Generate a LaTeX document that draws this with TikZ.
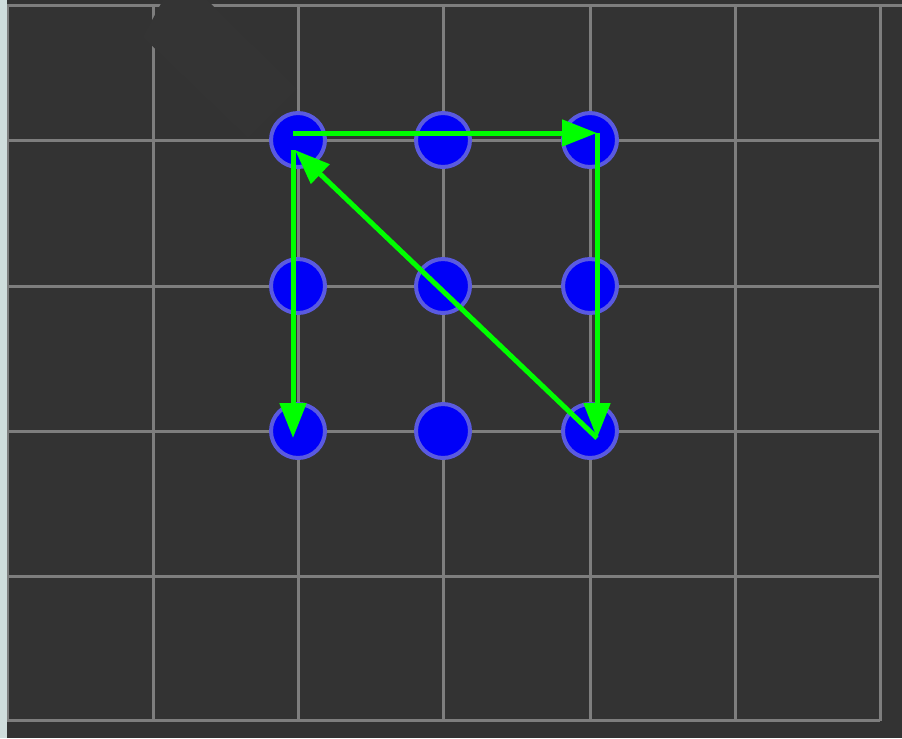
\documentclass[tikz,border=0pt]{standalone}
\usepackage{tikz}
\usetikzlibrary{arrows.meta}
\definecolor{bgdark}{HTML}{333333}
\definecolor{patchdark}{HTML}{343434}
\definecolor{sidepale}{HTML}{CFDDDC}
\definecolor{gridgray}{HTML}{7E7E7E}
\definecolor{dotblue}{HTML}{0000F8}
\definecolor{halo}{HTML}{5A5AE0}
\definecolor{movegreen}{HTML}{00FF00}

\begin{document}
\begin{tikzpicture}[x=0.02cm, y=-0.02cm,
    gridline/.style={draw=gridgray, line width=0.06cm},
    dot/.style={circle, fill=dotblue, draw=halo, line width=0.08cm,
      minimum size=1.08cm, inner sep=0pt},
    move/.style={draw=movegreen, line width=0.1cm,
      -{Triangle[length=0.7cm, width=0.52cm]}}]
  \useasboundingbox (0,0) rectangle (902,738);
  \fill[bgdark] (0,0) rectangle (902,738);
  \fill[sidepale] (0,0) rectangle (7,738);
  % grid
  \draw[gridline] (7,5) -- (902,5);
  \foreach \x in {8,153,298,443,590,735,880}
    \draw[gridline] (\x,6) -- (\x,721);
  \foreach \y in {140,286,431,576,720}
    \draw[gridline] (7,\y) -- (880,\y);
  % smudge over the top left corner
  \fill[patchdark] (143,37) -- (163,0) -- (207,0) -- (297,89) -- (248,138) -- cycle;
  % the nine dots
  \foreach \i/\x in {1/298,2/443,3/590} \foreach \j/\y in {1/140,2/286,3/431}
    \node[dot] (d-\i-\j) at (\x,\y) {};
  % the moves
  \coordinate (tl) at (293,133);
  \coordinate (tr) at (597,133);
  \coordinate (ls) at (293,150);
  \coordinate (lt) at (295,150);
  \coordinate (bl) at (293,438);
  \coordinate (br) at (597,438);
  \draw[move] (tl) -- (tr);
  \draw[move] (tr) -- (br);
  \draw[move] (ls) -- (bl);
  \draw[move] (br) -- (lt);
\end{tikzpicture}
\end{document}
